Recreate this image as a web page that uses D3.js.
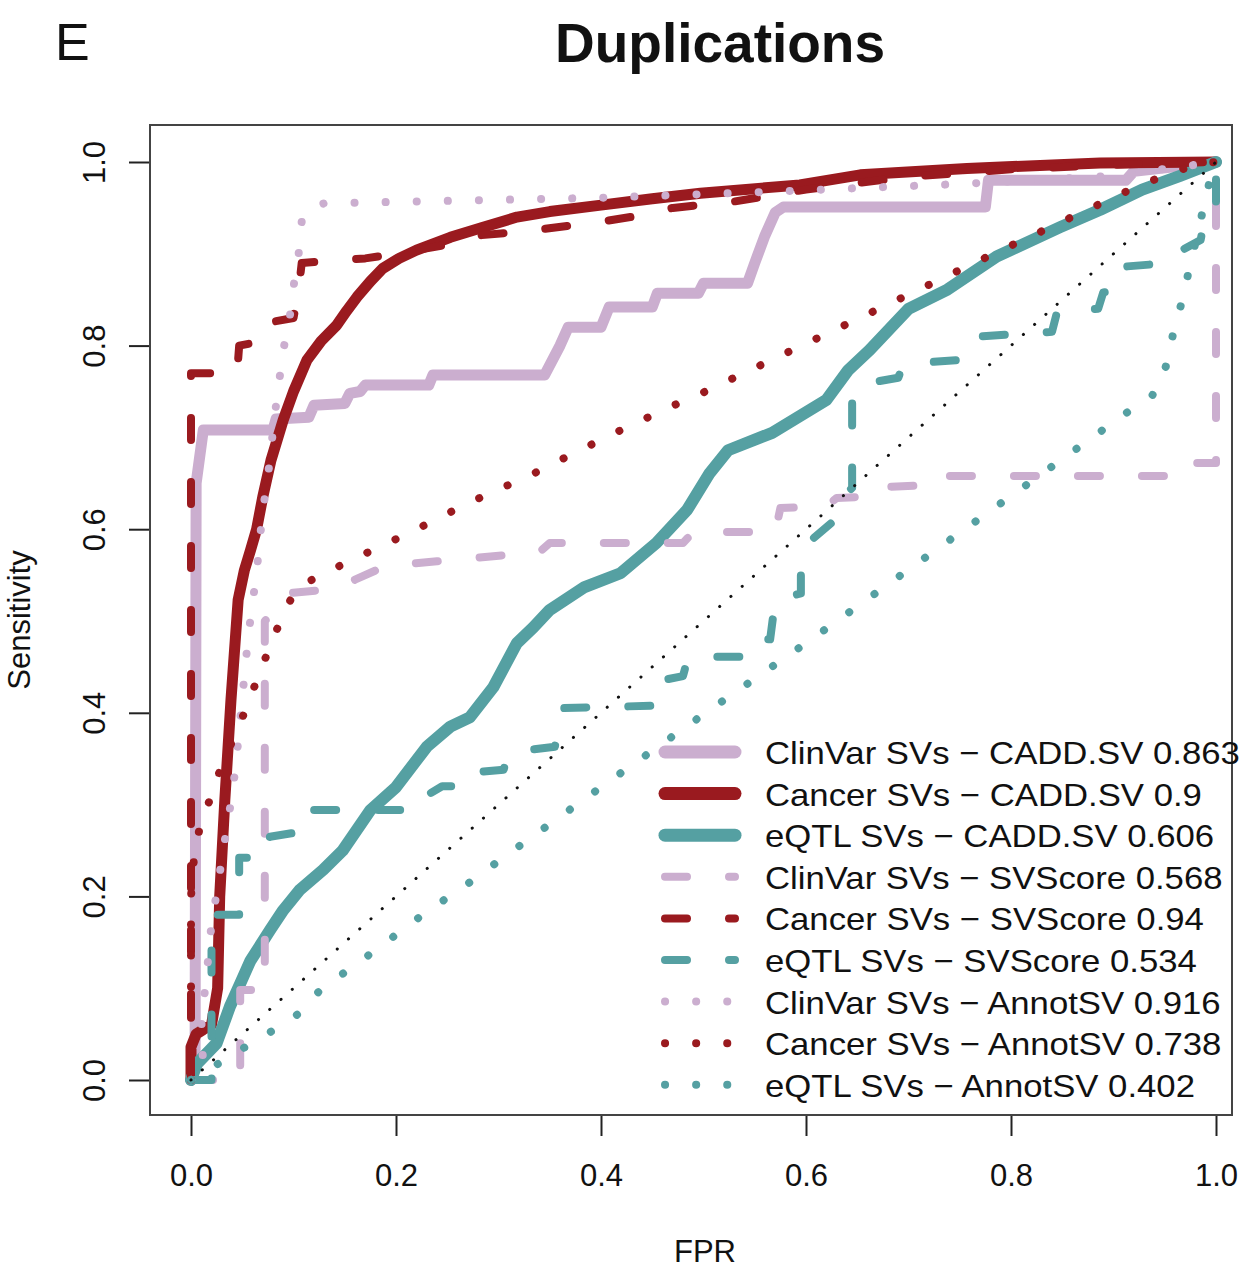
<!DOCTYPE html>
<html>
<head>
<meta charset="utf-8">
<script src="https://cdn.jsdelivr.net/npm/d3@7"></script>
<style>
  body { margin: 0; background: #fff; }
  svg text { font-family: "Liberation Sans", Arial, sans-serif; fill: #111; }
</style>
</head>
<body>
<div id="chart"></div>
<script>
"use strict";

// ROC points, [FPR, sensitivity]
const clinvarCadd = [
  [0, 0], [0.004, 0.02], [0.005, 0.65], [0.012, 0.708], [0.08, 0.708], [0.083, 0.72],
  [0.115, 0.722], [0.12, 0.735], [0.15, 0.737], [0.155, 0.748], [0.165, 0.75],
  [0.17, 0.757], [0.232, 0.757], [0.236, 0.768], [0.345, 0.768], [0.36, 0.8],
  [0.368, 0.82], [0.4, 0.82], [0.408, 0.842], [0.45, 0.842], [0.455, 0.857],
  [0.495, 0.857], [0.5, 0.868], [0.543, 0.868], [0.55, 0.89], [0.56, 0.92],
  [0.57, 0.945], [0.578, 0.951], [0.775, 0.951], [0.778, 0.98], [0.912, 0.98],
  [0.92, 0.99], [1, 1],
];
const cancerCadd = [
  [0, 0], [0, 0.036], [0.005, 0.05], [0.012, 0.055], [0.02, 0.06], [0.026, 0.1],
  [0.028, 0.2], [0.033, 0.305], [0.039, 0.414], [0.046, 0.523], [0.052, 0.555],
  [0.058, 0.577], [0.064, 0.6], [0.07, 0.635], [0.078, 0.675], [0.09, 0.719],
  [0.1, 0.75], [0.113, 0.784], [0.127, 0.805], [0.142, 0.822], [0.152, 0.838],
  [0.162, 0.853], [0.175, 0.87], [0.187, 0.884], [0.203, 0.895], [0.22, 0.904],
  [0.253, 0.918], [0.285, 0.929], [0.318, 0.94], [0.35, 0.946], [0.4, 0.953],
  [0.45, 0.96], [0.497, 0.966], [0.594, 0.975], [0.653, 0.986], [0.757, 0.993],
  [0.887, 0.999], [1, 1],
];
const eqtlCadd = [
  [0, 0], [0.006, 0.018], [0.025, 0.04], [0.038, 0.08], [0.048, 0.105], [0.058, 0.13],
  [0.077, 0.163], [0.09, 0.185], [0.106, 0.207], [0.129, 0.229], [0.148, 0.25],
  [0.175, 0.294], [0.2, 0.319], [0.23, 0.363], [0.253, 0.385], [0.272, 0.395],
  [0.295, 0.428], [0.318, 0.476], [0.334, 0.493], [0.35, 0.512], [0.384, 0.537],
  [0.419, 0.552], [0.454, 0.585], [0.484, 0.621], [0.506, 0.661], [0.524, 0.686],
  [0.567, 0.705], [0.62, 0.741], [0.641, 0.773], [0.662, 0.795], [0.7, 0.84],
  [0.738, 0.861], [0.786, 0.897], [0.848, 0.929], [0.887, 0.948], [0.928, 0.97],
  [0.965, 0.985], [1, 1],
];
const clinvarSvscore = [
  [0, 0], [0.048, 0], [0.048, 0.098], [0.072, 0.098], [0.072, 0.5], [0.09, 0.52],
  [0.092, 0.53], [0.14, 0.535], [0.16, 0.545], [0.19, 0.56], [0.24, 0.565],
  [0.34, 0.575], [0.35, 0.585], [0.48, 0.585], [0.49, 0.597], [0.57, 0.597],
  [0.575, 0.623], [0.62, 0.625], [0.63, 0.634], [0.67, 0.636], [0.675, 0.646],
  [0.72, 0.648], [0.725, 0.658], [0.97, 0.658], [0.975, 0.672], [1, 0.672], [1, 1],
];
const cancerSvscore = [
  [0, 0], [0, 0.77], [0.045, 0.77], [0.047, 0.8], [0.07, 0.805], [0.075, 0.825],
  [0.1, 0.83], [0.105, 0.86], [0.108, 0.89], [0.17, 0.895], [0.2, 0.9], [0.25, 0.91],
  [0.28, 0.92], [0.33, 0.925], [0.4, 0.935], [0.44, 0.942], [0.47, 0.95],
  [0.53, 0.957], [0.6, 0.97], [0.7, 0.984], [0.8, 0.992], [0.9, 0.997], [1, 1],
];
const eqtlSvscore = [
  [0, 0], [0.02, 0], [0.02, 0.18], [0.047, 0.18], [0.047, 0.242], [0.075, 0.242],
  [0.077, 0.265], [0.105, 0.27], [0.108, 0.294], [0.225, 0.294], [0.23, 0.31],
  [0.245, 0.32], [0.27, 0.32], [0.275, 0.335], [0.305, 0.338], [0.31, 0.357],
  [0.355, 0.363], [0.358, 0.38], [0.36, 0.405], [0.46, 0.408], [0.462, 0.436],
  [0.48, 0.44], [0.485, 0.461], [0.535, 0.461], [0.54, 0.48], [0.565, 0.48],
  [0.57, 0.523], [0.595, 0.53], [0.595, 0.57], [0.605, 0.588], [0.625, 0.607],
  [0.63, 0.63], [0.645, 0.645], [0.645, 0.74], [0.65, 0.757], [0.69, 0.765],
  [0.695, 0.78], [0.76, 0.785], [0.77, 0.81], [0.84, 0.815], [0.845, 0.837],
  [0.885, 0.84], [0.89, 0.858], [0.905, 0.86], [0.91, 0.886], [0.955, 0.89],
  [0.96, 0.9], [0.985, 0.915], [0.99, 0.945], [1, 0.95], [1, 1],
];
const clinvarAnnot = [
  [0, 0], [0.012, 0.01], [0.01, 0.07], [0.014, 0.1], [0.02, 0.17], [0.026, 0.21],
  [0.03, 0.24], [0.04, 0.31], [0.044, 0.345], [0.05, 0.416], [0.056, 0.485],
  [0.064, 0.553], [0.07, 0.62], [0.075, 0.657], [0.082, 0.727], [0.09, 0.795],
  [0.096, 0.828], [0.1, 0.864], [0.105, 0.9], [0.108, 0.935], [0.115, 0.95],
  [0.13, 0.955], [0.4, 0.961], [0.55, 0.967], [0.75, 0.976], [0.9, 0.985], [1, 1],
];
const cancerAnnot = [
  [0, 0], [0, 0.2], [0.003, 0.243], [0.009, 0.278], [0.02, 0.31], [0.03, 0.343],
  [0.043, 0.376], [0.055, 0.408], [0.066, 0.441], [0.077, 0.472], [0.089, 0.505],
  [0.103, 0.536], [0.13, 0.552], [0.158, 0.567], [0.186, 0.582], [0.215, 0.597],
  [0.243, 0.613], [0.27, 0.628], [0.299, 0.643], [0.328, 0.657], [0.356, 0.673],
  [0.412, 0.704], [0.467, 0.733], [0.498, 0.748], [0.641, 0.824], [0.783, 0.9],
  [0.926, 0.975], [0.984, 0.999], [1, 1],
];
const eqtlAnnot = [
  [0, 0], [0.027, 0.018], [0.053, 0.036], [0.08, 0.054], [0.106, 0.073],
  [0.126, 0.098], [0.177, 0.139], [0.226, 0.18], [0.278, 0.22], [0.303, 0.241],
  [0.405, 0.323], [0.506, 0.403], [0.609, 0.483], [0.71, 0.564], [0.811, 0.645],
  [0.913, 0.727], [0.938, 0.746], [0.951, 0.777], [0.958, 0.812], [0.966, 0.845],
  [0.973, 0.879], [0.994, 0.98], [1, 1],
];

const legendLabels = [
  "ClinVar SVs \u2212 CADD.SV 0.863",
  "Cancer SVs \u2212 CADD.SV 0.9",
  "eQTL SVs \u2212 CADD.SV 0.606",
  "ClinVar SVs \u2212 SVScore 0.568",
  "Cancer SVs \u2212 SVScore 0.94",
  "eQTL SVs \u2212 SVScore 0.534",
  "ClinVar SVs \u2212 AnnotSV 0.916",
  "Cancer SVs \u2212 AnnotSV 0.738",
  "eQTL SVs \u2212 AnnotSV 0.402",
];
const tickValues = [0, 0.2, 0.4, 0.6, 0.8, 1.0];

const purple = "#cbaecf";
const red = "#9a1a1f";
const teal = "#55a0a2";

// style per line type
const solid = { width: 11, dash: null };
const dashed = { width: 8, dash: "22 42" };
const dotted = { width: 8, dash: "0.1 31" };

const series = [
  { data: clinvarCadd, color: purple, style: solid },
  { data: cancerCadd, color: red, style: solid },
  { data: eqtlCadd, color: teal, style: solid },
  { data: clinvarSvscore, color: purple, style: dashed },
  { data: cancerSvscore, color: red, style: dashed },
  { data: eqtlSvscore, color: teal, style: dashed },
  { data: clinvarAnnot, color: purple, style: dotted },
  { data: cancerAnnot, color: red, style: dotted },
  { data: eqtlAnnot, color: teal, style: dotted },
];

const W = 1244, H = 1271;
const box = { left: 150, right: 1232, top: 125, bottom: 1115 };

const svg = d3.select("#chart").append("svg")
  .attr("width", W).attr("height", H);

const x = d3.scaleLinear().domain([0, 1]).range([191, 1216]);
const y = d3.scaleLinear().domain([0, 1]).range([1080, 162]);

const line = d3.line().x((d) => x(d[0])).y((d) => y(d[1]));

// curves
svg.append("g").selectAll("path")
  .data(series)
  .enter()
  .append("path")
  .attr("d", (s) => line(s.data))
  .attr("fill", "none")
  .attr("stroke", (s) => s.color)
  .attr("stroke-width", (s, i) => (i === 2 ? 12 : s.style.width))
  .attr("stroke-dasharray", (s) => s.style.dash)
  .attr("stroke-linecap", "round")
  .attr("stroke-linejoin", "round");

// chance diagonal
svg.append("path")
  .attr("d", line([[0, 0], [1, 1]]))
  .attr("fill", "none")
  .attr("stroke", "#111")
  .attr("stroke-width", 3)
  .attr("stroke-dasharray", "0.1 15")
  .attr("stroke-linecap", "round");

// frame
svg.append("rect")
  .attr("x", box.left).attr("y", box.top)
  .attr("width", box.right - box.left).attr("height", box.bottom - box.top)
  .attr("fill", "none").attr("stroke", "#444").attr("stroke-width", 2);

// x axis
const xAxis = svg.append("g")
  .attr("transform", `translate(0,${box.bottom + 1})`)
  .call(d3.axisBottom(x).tickValues(tickValues).tickFormat(d3.format(".1f")).tickSize(20));
xAxis.select(".domain").remove();
xAxis.selectAll("line").attr("stroke", "#222").attr("stroke-width", 2);
xAxis.selectAll("text")
  .attr("y", 70).attr("dy", null)
  .attr("font-size", 31).attr("fill", "#222");

// y axis
const yAxis = svg.append("g")
  .attr("transform", `translate(${box.left - 1},0)`)
  .call(d3.axisLeft(y).tickValues(tickValues).tickFormat(d3.format(".1f")).tickSize(20));
yAxis.select(".domain").remove();
yAxis.selectAll("line").attr("stroke", "#222").attr("stroke-width", 2);
yAxis.selectAll("text")
  .attr("x", 0).attr("y", -44).attr("dy", null)
  .attr("transform", "rotate(-90)")
  .attr("text-anchor", "middle")
  .attr("font-size", 31).attr("fill", "#222");

// titles
svg.append("text")
  .attr("x", 720).attr("y", 62)
  .attr("text-anchor", "middle")
  .attr("font-size", 55).attr("font-weight", "bold")
  .text("Duplications");

svg.append("text")
  .attr("x", 55).attr("y", 60)
  .attr("font-size", 52)
  .text("E");

svg.append("text")
  .attr("x", 705).attr("y", 1262)
  .attr("text-anchor", "middle")
  .attr("font-size", 31)
  .text("FPR");

svg.append("text")
  .attr("transform", "translate(30,620) rotate(-90)")
  .attr("text-anchor", "middle")
  .attr("font-size", 31)
  .text("Sensitivity");

// legend
const legend = svg.append("g").attr("id", "legend");
const rowY = (i) => 752 + i * 41.6;

legend.selectAll("path")
  .data(series)
  .enter()
  .append("path")
  .attr("d", (s, i) => `M665,${rowY(i)}H735`)
  .attr("stroke", (s) => s.color)
  .attr("stroke-width", (s) => (s.style === solid ? 13 : s.style.width))
  .attr("stroke-dasharray", (s) => s.style.dash)
  .attr("stroke-linecap", "round");

// the original legend type is a bit wider than the tick labels
legend.selectAll("text")
  .data(legendLabels)
  .enter()
  .append("text")
  .attr("transform", (d, i) => `translate(765,${rowY(i) + 12}) scale(1.085,1)`)
  .attr("font-size", 32)
  .text((d) => d);
</script>
</body>
</html>
